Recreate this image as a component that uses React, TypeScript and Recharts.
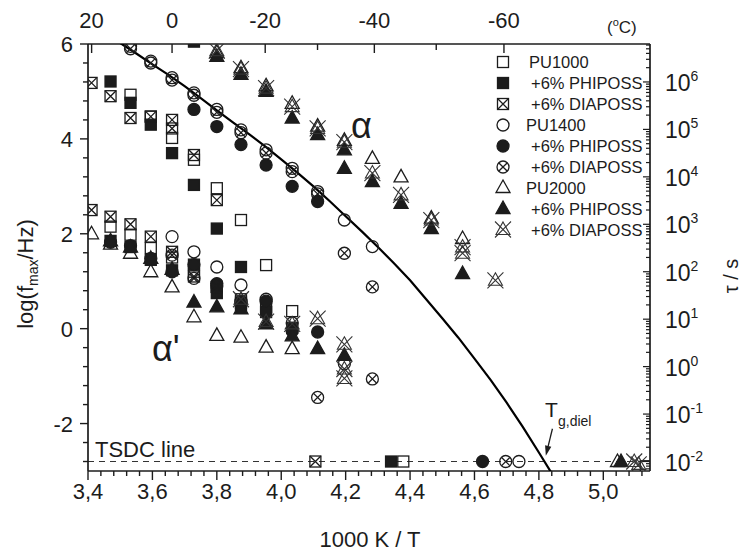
import React from 'react'
import { ScatterChart, Scatter, XAxis, YAxis, ReferenceLine } from 'recharts'

const FONT = '"Liberation Sans", Arial, Helvetica, sans-serif'
const INK = '#1c1c1c'

// ---- axes ----
const X_DOMAIN = [3.4, 5.145]
const Y_DOMAIN = [-3, 6]
const xMajor = [3.4, 3.6, 3.8, 4.0, 4.2, 4.4, 4.6, 4.8, 5.0]
const yMajor = [-2, 0, 2, 4, 6]
const tempMajor = [20, 0, -20, -40, -60] // °C on top axis
const tempMinor = [-30, -50]
const tauDecades = [-2, -1, 0, 1, 2, 3, 4, 5, 6] // right axis, tau / s
const TAU_SHIFT = -0.8 // log tau -> log f position on the left scale
const TSDC_LEVEL = -2.8

// ---- data: log(f_max/Hz) vs 1000/T ----
const pu1000 = [
  { x: 3.532, y: 4.93 }, { x: 3.595, y: 4.47 }, { x: 3.661, y: 4.02 }, { x: 3.729, y: 3.56 },
  { x: 3.8, y: 2.96 }, { x: 3.875, y: 2.29 }, { x: 3.953, y: 1.34 },
  { x: 3.47, y: 2.15 }, { x: 3.532, y: 1.98 }, { x: 3.595, y: 1.7 }, { x: 3.661, y: 1.5 },
  { x: 3.729, y: 1.2 }, { x: 3.8, y: 0.88 }, { x: 3.875, y: 0.55 }, { x: 3.953, y: 0.45 },
  { x: 4.034, y: 0.37 }, { x: 4.379, y: -2.8 }, { x: 5.132, y: -2.9 },
]
const pu1000Phi = [
  { x: 3.729, y: 6.05 }, { x: 3.47, y: 5.21 }, { x: 3.532, y: 4.76 }, { x: 3.595, y: 4.3 },
  { x: 3.661, y: 3.7 }, { x: 3.729, y: 3.03 }, { x: 3.8, y: 2.11 }, { x: 3.875, y: 1.3 },
  { x: 3.47, y: 1.85 }, { x: 3.532, y: 1.72 }, { x: 3.595, y: 1.45 }, { x: 3.661, y: 1.23 },
  { x: 3.729, y: 1.35 }, { x: 3.8, y: 0.75 }, { x: 3.875, y: 0.5 }, { x: 3.953, y: 0.35 },
  { x: 4.034, y: 0.02 }, { x: 4.341, y: -2.8 },
]
const pu1000Dia = [
  { x: 3.411, y: 5.18 }, { x: 3.47, y: 4.9 }, { x: 3.532, y: 4.44 }, { x: 3.595, y: 4.47 },
  { x: 3.661, y: 4.4 }, { x: 3.661, y: 4.22 }, { x: 3.729, y: 3.66 }, { x: 3.8, y: 2.71 },
  { x: 3.411, y: 2.5 }, { x: 3.47, y: 2.36 }, { x: 3.532, y: 2.2 }, { x: 3.595, y: 1.94 },
  { x: 3.661, y: 1.62 }, { x: 3.729, y: 1.1 }, { x: 3.8, y: 0.88 }, { x: 3.875, y: 0.62 },
  { x: 4.106, y: -2.8 },
]
const pu1400 = [
  { x: 3.532, y: 5.95 }, { x: 3.595, y: 5.64 }, { x: 3.661, y: 5.29 }, { x: 3.729, y: 4.97 },
  { x: 3.8, y: 4.62 }, { x: 3.875, y: 4.19 }, { x: 3.953, y: 3.77 }, { x: 4.034, y: 3.38 },
  { x: 4.113, y: 2.89 }, { x: 4.196, y: 2.29 }, { x: 4.283, y: 1.73 },
  { x: 3.661, y: 1.94 }, { x: 3.729, y: 1.62 }, { x: 3.8, y: 1.3 }, { x: 3.875, y: 0.92 },
  { x: 3.953, y: 0.62 }, { x: 4.034, y: 0.12 }, { x: 4.196, y: -0.74 }, { x: 4.738, y: -2.8 },
]
const pu1400Phi = [
  { x: 3.729, y: 4.62 }, { x: 3.8, y: 4.26 }, { x: 3.875, y: 3.88 }, { x: 3.953, y: 3.45 },
  { x: 4.034, y: 3.0 }, { x: 4.113, y: 2.68 },
  { x: 3.47, y: 1.82 }, { x: 3.532, y: 1.75 }, { x: 3.595, y: 1.48 }, { x: 3.661, y: 1.2 },
  { x: 3.729, y: 1.35 }, { x: 3.8, y: 0.95 }, { x: 3.875, y: 0.58 }, { x: 3.953, y: 0.58 },
  { x: 4.034, y: -0.05 }, { x: 4.113, y: -0.07 }, { x: 4.625, y: -2.8 },
]
const pu1400Dia = [
  { x: 3.532, y: 5.9 }, { x: 3.595, y: 5.6 }, { x: 3.661, y: 5.24 }, { x: 3.729, y: 4.92 },
  { x: 3.8, y: 4.56 }, { x: 3.875, y: 4.13 }, { x: 3.953, y: 3.7 }, { x: 4.034, y: 3.31 },
  { x: 4.113, y: 2.84 },
  { x: 3.661, y: 1.55 }, { x: 3.729, y: 1.06 }, { x: 3.8, y: 0.9 }, { x: 3.875, y: 0.55 },
  { x: 4.196, y: 1.59 }, { x: 4.283, y: 0.88 }, { x: 4.113, y: -1.45 }, { x: 4.283, y: -1.06 },
  { x: 4.697, y: -2.8 },
]
const pu2000 = [
  { x: 3.8, y: 5.82 }, { x: 3.875, y: 5.5 }, { x: 3.953, y: 5.12 }, { x: 4.034, y: 4.75 },
  { x: 4.113, y: 4.27 }, { x: 4.196, y: 3.97 }, { x: 4.283, y: 3.59 }, { x: 4.372, y: 3.2 },
  { x: 4.466, y: 2.33 }, { x: 4.563, y: 1.9 },
  { x: 3.411, y: 2.0 }, { x: 3.47, y: 1.78 }, { x: 3.532, y: 1.59 }, { x: 3.595, y: 1.2 },
  { x: 3.661, y: 0.88 }, { x: 3.729, y: 0.25 }, { x: 3.8, y: -0.14 }, { x: 3.875, y: -0.18 },
  { x: 3.953, y: -0.39 }, { x: 4.034, y: -0.42 }, { x: 5.044, y: -2.8 },
]
const pu2000Phi = [
  { x: 3.8, y: 5.74 }, { x: 3.875, y: 5.36 }, { x: 3.953, y: 5.0 }, { x: 4.034, y: 4.44 },
  { x: 4.113, y: 4.09 }, { x: 4.196, y: 3.77 }, { x: 4.196, y: 3.38 }, { x: 4.283, y: 3.1 },
  { x: 4.372, y: 2.64 }, { x: 4.466, y: 2.11 }, { x: 4.563, y: 1.16 },
  { x: 3.47, y: 1.85 }, { x: 3.532, y: 1.72 }, { x: 3.595, y: 1.48 }, { x: 3.661, y: 1.25 },
  { x: 3.729, y: 0.56 }, { x: 3.8, y: 0.46 }, { x: 3.875, y: 0.42 }, { x: 3.953, y: 0.1 },
  { x: 4.034, y: -0.15 }, { x: 4.113, y: -0.42 }, { x: 4.196, y: -0.56 }, { x: 5.055, y: -2.8 },
]
const pu2000Dia = [
  { x: 3.8, y: 5.86 }, { x: 3.875, y: 5.47 }, { x: 3.953, y: 5.07 }, { x: 4.034, y: 4.68 },
  { x: 4.113, y: 4.22 }, { x: 4.196, y: 3.93 }, { x: 4.283, y: 3.28 }, { x: 4.372, y: 2.82 },
  { x: 4.466, y: 2.29 }, { x: 4.563, y: 1.72 }, { x: 4.563, y: 1.59 }, { x: 4.665, y: 1.02 },
  { x: 3.875, y: 0.62 }, { x: 3.953, y: 0.15 }, { x: 4.034, y: 0.1 }, { x: 4.113, y: 0.21 },
  { x: 4.196, y: -0.33 }, { x: 4.196, y: -0.85 }, { x: 4.196, y: -1.05 },
  { x: 5.096, y: -2.8 }, { x: 5.11, y: -2.86 },
]
// VFT fit
const vftCurve = [
  { x: 3.5, y: 6.02 }, { x: 3.55, y: 5.8 }, { x: 3.6, y: 5.57 }, { x: 3.65, y: 5.35 },
  { x: 3.7, y: 5.11 }, { x: 3.75, y: 4.86 }, { x: 3.8, y: 4.6 }, { x: 3.85, y: 4.35 },
  { x: 3.9, y: 4.1 }, { x: 3.95, y: 3.84 }, { x: 4.0, y: 3.57 }, { x: 4.05, y: 3.29 },
  { x: 4.1, y: 3.0 }, { x: 4.15, y: 2.69 }, { x: 4.2, y: 2.37 }, { x: 4.25, y: 2.05 },
  { x: 4.3, y: 1.72 }, { x: 4.35, y: 1.38 }, { x: 4.4, y: 1.02 }, { x: 4.45, y: 0.62 },
  { x: 4.5, y: 0.22 }, { x: 4.55, y: -0.19 }, { x: 4.6, y: -0.63 }, { x: 4.65, y: -1.08 },
  { x: 4.7, y: -1.56 }, { x: 4.75, y: -2.07 }, { x: 4.8, y: -2.61 }, { x: 4.84, y: -3.05 },
]
const tgArrow = [{ x: 4.842, y: -2.11 }, { x: 4.8215, y: -2.68 }]

type Kind = 'sq' | 'sqF' | 'sqX' | 'ci' | 'ciF' | 'ciX' | 'tr' | 'trF' | 'trX'

const series: { label: string; kind: Kind; data: { x: number; y: number }[] }[] = [
  { label: 'PU1000', kind: 'sq', data: pu1000 },
  { label: '+6% PHIPOSS', kind: 'sqF', data: pu1000Phi },
  { label: '+6% DIAPOSS', kind: 'sqX', data: pu1000Dia },
  { label: 'PU1400', kind: 'ci', data: pu1400 },
  { label: '+6% PHIPOSS', kind: 'ciF', data: pu1400Phi },
  { label: '+6% DIAPOSS', kind: 'ciX', data: pu1400Dia },
  { label: 'PU2000', kind: 'tr', data: pu2000 },
  { label: '+6% PHIPOSS', kind: 'trF', data: pu2000Phi },
  { label: '+6% DIAPOSS', kind: 'trX', data: pu2000Dia },
]

function Marker({ kind, cx, cy }: { kind: Kind; cx: number; cy: number }) {
  const sw = 1.3
  const s = 5.5
  const r = 6
  const tri = `${cx},${cy - 7.5} ${cx + 7},${cy + 5} ${cx - 7},${cy + 5}`
  switch (kind) {
    case 'sq':
    case 'sqF':
      return <rect x={cx - s} y={cy - s} width={2 * s} height={2 * s} fill={kind === 'sqF' ? INK : 'none'} stroke={INK} strokeWidth={sw} />
    case 'sqX':
      return (
        <g stroke={INK} strokeWidth={sw} fill="none">
          <rect x={cx - s} y={cy - s} width={2 * s} height={2 * s} />
          <path d={`M${cx - s},${cy - s}L${cx + s},${cy + s}M${cx + s},${cy - s}L${cx - s},${cy + s}`} />
        </g>
      )
    case 'ci':
    case 'ciF':
      return <circle cx={cx} cy={cy} r={r} fill={kind === 'ciF' ? INK : 'none'} stroke={INK} strokeWidth={sw} />
    case 'ciX': {
      const d = r * 0.68
      return (
        <g stroke={INK} strokeWidth={sw} fill="none">
          <circle cx={cx} cy={cy} r={r} />
          <path d={`M${cx - d},${cy - d}L${cx + d},${cy + d}M${cx + d},${cy - d}L${cx - d},${cy + d}`} />
        </g>
      )
    }
    case 'tr':
    case 'trF':
      return <polygon points={tri} fill={kind === 'trF' ? INK : 'none'} stroke={INK} strokeWidth={sw} strokeLinejoin="miter" />
    case 'trX':
      return (
        <g stroke="#333" strokeWidth={1.1} fill="none">
          <polygon points={tri} />
          <path d={`M${cx - 8},${cy - 8}L${cx + 8},${cy + 8}M${cx + 8},${cy - 8}L${cx - 8},${cy + 8}`} />
        </g>
      )
  }
  return null
}

const near = (a: number, b: number) => Math.abs(a - b) < 1e-6

// tick lists (positions only)
const xTicks: number[] = []
for (let v = 3.4; v < 5.145; v += 0.04) xTicks.push(Math.round(v * 100) / 100)
const yTicks: number[] = []
for (let v = -2.8; v <= 6.0001; v += 0.4) yTicks.push(Math.round(v * 10) / 10)
const toInvT = (c: number) => 1000 / (c + 273.15)
const topTicks = [...tempMajor, ...tempMinor].map(toInvT)
const tauTicks: number[] = []
for (let k = -3; k <= 6; k++) {
  for (let m = 1; m <= 9; m++) {
    const v = k + Math.log10(m) + TAU_SHIFT
    if (v >= Y_DOMAIN[0] && v <= Y_DOMAIN[1]) tauTicks.push(v)
  }
}

const txt = { fontFamily: FONT, fill: INK }

// eslint-disable-next-line @typescript-eslint/no-explicit-any
function BottomTick({ x, y, payload }: any) {
  const v = payload.value
  const major = xMajor.some(m => near(m, v))
  return (
    <g>
      <line x1={x} y1={y} x2={x} y2={y + (major ? 9 : 5)} stroke={INK} strokeWidth={1.4} />
      {major && (
        <text x={x} y={y + 28} textAnchor="middle" fontSize={22} {...txt}>
          {v.toFixed(1).replace('.', ',')}
        </text>
      )}
    </g>
  )
}

// eslint-disable-next-line @typescript-eslint/no-explicit-any
function TopTick({ x, y, payload }: any) {
  const c = Math.round(1000 / payload.value - 273.15)
  const major = tempMajor.includes(c)
  return (
    <g>
      <line x1={x} y1={y} x2={x} y2={y + (major ? 9 : 6)} stroke={INK} strokeWidth={1.4} />
      {major && (
        <text x={x} y={y - 16} textAnchor="middle" fontSize={22} {...txt}>{c}</text>
      )}
    </g>
  )
}

// eslint-disable-next-line @typescript-eslint/no-explicit-any
function LeftTick({ x, y, payload }: any) {
  const v = payload.value
  const major = yMajor.some(m => near(m, v))
  return (
    <g>
      <line x1={x} y1={y} x2={x - (major ? 8 : 5)} y2={y} stroke={INK} strokeWidth={1.4} />
      {major && (
        <text x={x - 15} y={y + 8} textAnchor="end" fontSize={22} {...txt}>{Math.round(v)}</text>
      )}
    </g>
  )
}

// eslint-disable-next-line @typescript-eslint/no-explicit-any
function RightTick({ x, y, payload }: any) {
  const lt = payload.value - TAU_SHIFT
  const k = Math.round(lt)
  const major = near(lt, k) && tauDecades.includes(k)
  return (
    <g>
      <line x1={x} y1={y} x2={x - (major ? 7 : 4)} y2={y} stroke={INK} strokeWidth={1.2} />
      {major && (
        <text x={x + 15} y={y + 9} fontSize={23} {...txt}>
          10<tspan fontSize={14} dy={-10}>{k}</tspan>
        </text>
      )}
    </g>
  )
}

// eslint-disable-next-line @typescript-eslint/no-explicit-any
function ArrowShape(p: any) {
  const { x1, y1, x2, y2 } = p
  const ang = Math.atan2(y2 - y1, x2 - x1)
  const L = 10
  const W = 3.2
  const bx = x2 - L * Math.cos(ang)
  const by = y2 - L * Math.sin(ang)
  const nx = -Math.sin(ang) * W
  const ny = Math.cos(ang) * W
  return (
    <g>
      <line x1={x1} y1={y1} x2={bx} y2={by} stroke={INK} strokeWidth={1.3} />
      <polygon points={`${x2},${y2} ${bx + nx},${by + ny} ${bx - nx},${by - ny}`} fill={INK} />
    </g>
  )
}

const legendRows = [62, 83, 104, 125, 146, 167, 187.5, 208.5, 229.5]
const legendTextX = [529, 531, 531, 526, 531, 531, 526, 531, 531]

export default function App() {
  return (
    <div style={{ position: 'fixed', left: 0, top: 0, width: 741, height: 555, background: '#fff' }}>
      <ScatterChart width={741} height={555} margin={{ top: 0, right: 0, bottom: 0, left: 0 }}>
        <XAxis
          xAxisId="b" dataKey="x" type="number" domain={X_DOMAIN} allowDataOverflow
          ticks={xTicks} interval={0} height={84} tickSize={0} tickMargin={0} tickLine={false}
          axisLine={{ stroke: INK, strokeWidth: 1.7 }} tick={BottomTick}
        />
        <XAxis
          xAxisId="t" orientation="top" dataKey="x" type="number" domain={X_DOMAIN} allowDataOverflow
          ticks={topTicks} interval={0} height={44} tickSize={0} tickMargin={0} tickLine={false}
          axisLine={{ stroke: INK, strokeWidth: 1.7 }} tick={TopTick}
        />
        <YAxis
          yAxisId="l" dataKey="y" type="number" domain={Y_DOMAIN} allowDataOverflow
          ticks={yTicks} interval={0} width={88} tickSize={0} tickMargin={0} tickLine={false}
          axisLine={{ stroke: INK, strokeWidth: 1.7 }} tick={LeftTick}
        />
        <YAxis
          yAxisId="r" orientation="right" dataKey="y" type="number" domain={Y_DOMAIN} allowDataOverflow
          ticks={tauTicks} interval={0} width={91} tickSize={0} tickMargin={0} tickLine={false}
          axisLine={{ stroke: INK, strokeWidth: 1.7 }} tick={RightTick}
        />
        <ReferenceLine
          xAxisId="b" yAxisId="l" y={TSDC_LEVEL}
          stroke="#333" strokeWidth={1.2} strokeDasharray="6 5"
        />
        <Scatter
          xAxisId="b" yAxisId="l" data={vftCurve} isAnimationActive={false}
          line={{ stroke: '#000', strokeWidth: 2.2 }} lineType="joint" shape={() => <g />}
        />
        {series.map((s, i) => (
          <Scatter
            key={i} xAxisId="b" yAxisId="l" data={s.data} isAnimationActive={false}
            // eslint-disable-next-line @typescript-eslint/no-explicit-any
            shape={(p: any) => <Marker kind={s.kind} cx={p.cx} cy={p.cy} />}
          />
        ))}
        <ReferenceLine xAxisId="b" yAxisId="l" segment={tgArrow} shape={ArrowShape} ifOverflow="visible" />
      </ScatterChart>

      <svg width={741} height={555} style={{ position: 'absolute', left: 0, top: 0, pointerEvents: 'none' }}>
        {series.map((s, i) => (
          <g key={i}>
            <Marker kind={s.kind} cx={503} cy={legendRows[i]} />
            <text x={legendTextX[i]} y={legendRows[i] + 6} fontSize={16.5} {...txt}>{s.label}</text>
          </g>
        ))}
        <text x={351} y={138} fontSize={36} {...txt}>α</text>
        <text x={152} y={361} fontSize={36} {...txt}>α'</text>
        <text x={95} y={457} fontSize={22} {...txt}>TSDC line</text>
        <text x={545} y={417} fontSize={21} {...txt}>T</text>
        <text x={558} y={426} fontSize={14} {...txt}>g,diel</text>
        <text x={607} y={33} fontSize={17} {...txt}>
          (<tspan fontSize={11} dy={-7}>o</tspan><tspan dy={7}>C)</tspan>
        </text>
        <text transform="translate(33,274) rotate(-90)" textAnchor="middle" fontSize={22} {...txt}>
          log(f<tspan fontSize={14} dy={5}>max</tspan><tspan dy={-5}>/Hz)</tspan>
        </text>
        <text transform="translate(738,276) rotate(-90)" textAnchor="middle" fontSize={20} {...txt}>τ / s</text>
        <text x={370} y={547} textAnchor="middle" fontSize={22} {...txt}>1000 K / T</text>
      </svg>
    </div>
  )
}
